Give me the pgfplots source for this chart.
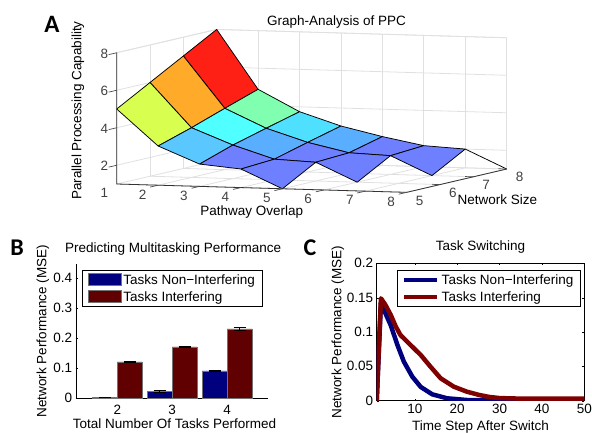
\documentclass[border=0pt]{standalone}
\usepackage{pgfplots}
\usepackage{fontspec}
\pgfplotsset{compat=1.18}
\setmainfont{Liberation Sans}
\newfontfamily\panelfont{Carlito}
\definecolor{navyb}{HTML}{00007F}
\definecolor{maroonb}{HTML}{600000}
\definecolor{maroonc}{HTML}{7F0000}
\definecolor{tickgray}{HTML}{404040}
\definecolor{cred}{HTML}{FF2015}
\definecolor{corange}{HTML}{FFAA28}
\definecolor{cyell}{HTML}{D8FF50}
\definecolor{cgreen}{HTML}{80FFB0}
\definecolor{ccyan}{HTML}{50FFFF}
\definecolor{cskyA}{HTML}{50E0FF}
\definecolor{cskyB}{HTML}{5AC8FF}
\definecolor{cskyC}{HTML}{5AAEFF}
\definecolor{cblue}{HTML}{6E7FFF}
\newcommand{\sizeA}{\fontsize{13.5}{15}\selectfont}
\pgfplotsset{mylegend/.style={
  legend style={anchor=north west,draw=black,line width=0.8pt,font=\sizeA,inner xsep=5pt,inner ysep=3pt,
    nodes={inner xsep=2pt,inner ysep=0pt,text height=11.5pt,text depth=1.5pt},row sep=4pt,cells={anchor=west}}}}
\begin{document}
\begin{tikzpicture}
\path[use as bounding box] (0pt,0pt) rectangle (592pt,432pt);
\node[font=\panelfont\bfseries\fontsize{25}{25}\selectfont,anchor=center] at (52pt,408pt) {A};
\node[font=\panelfont\bfseries\fontsize{24}{24}\selectfont,anchor=center] at (17pt,184pt) {B};
\node[font=\panelfont\bfseries\fontsize{24}{24}\selectfont,anchor=center] at (310pt,184pt) {C};
% Panel A
\begin{axis}[
  at={(116.7pt,248pt)},anchor=origin,
  x={(41.43pt,-1.19pt)},y={(33.33pt,7.77pt)},z={(0pt,18.75pt)},
  xmin=1,xmax=8,ymin=5,ymax=8,zmin=1,zmax=8,
  xtick={2,3,4,5,6,7,8},ytick={5,6,7,8},ztick={2,4,6,8},
  extra z ticks={1},extra z tick style={grid=none,tick label style={yshift=-8pt}},
  grid=major,major grid style={draw=black!12,line width=0.8pt},
  axis line style={draw=black!12,line width=0.8pt},
  major tick length=0pt,
  clip=false,
  tick label style={font=\sizeA,text=tickgray},
  xticklabel style={xshift=-9pt,yshift=-1pt},
  yticklabel style={xshift=5pt},
  zticklabel style={xshift=-5pt},
  title={Graph-Analysis of PPC},
  title style={at={(axis cs:3.89,8,8)},anchor=center,yshift=4.5pt,font=\sizeA},
  xlabel={Pathway Overlap},
  ylabel={Network Size},
  zlabel={Parallel Processing Capability},
  every axis x label/.style={at={(axis cs:4.26,5,-0.3)},anchor=center,font=\sizeA},
  every axis y label/.style={at={(axis cs:8,7.72,-0.5)},anchor=center,font=\sizeA},
  every axis z label/.style={at={(axis cs:0.066,5,4.85)},anchor=center,rotate=90,font=\sizeA},
  /pgf/number format/assume math mode=true,
]
\addplot3[fill=cred,draw=black,line width=0.75pt,line join=round] coordinates {(1,7,7) (2,7,4.27) (2,8,4.87) (1,8,8) (1,7,7)};
\addplot3[fill=cgreen,draw=black,line width=0.75pt,line join=round] coordinates {(2,7,4.27) (3,7,3.27) (3,8,3.74) (2,8,4.87) (2,7,4.27)};
\addplot3[fill=cskyA,draw=black,line width=0.75pt,line join=round] coordinates {(3,7,3.27) (4,7,2.58) (4,8,3.04) (3,8,3.74) (3,7,3.27)};
\addplot3[fill=cskyC,draw=black,line width=0.75pt,line join=round] coordinates {(4,7,2.58) (5,7,2.09) (5,8,2.54) (4,8,3.04) (4,7,2.58)};
\addplot3[fill=cblue,draw=black,line width=0.75pt,line join=round] coordinates {(5,7,2.09) (6,7,2) (6,8,2.12) (5,8,2.54) (5,7,2.09)};
\addplot3[fill=cblue,draw=black,line width=0.75pt,line join=round] coordinates {(6,7,2) (7,7,1) (7,8,2) (6,8,2.12) (6,7,2)};
\addplot3[draw=black,line width=0.75pt] coordinates {(7,8,2) (8,8,1)};
\addplot3[fill=corange,draw=black,line width=0.75pt,line join=round] coordinates {(1,6,6) (2,6,3.65) (2,7,4.27) (1,7,7) (1,6,6)};
\addplot3[fill=ccyan,draw=black,line width=0.75pt,line join=round] coordinates {(2,6,3.65) (3,6,2.79) (3,7,3.27) (2,7,4.27) (2,6,3.65)};
\addplot3[fill=cskyC,draw=black,line width=0.75pt,line join=round] coordinates {(3,6,2.79) (4,6,2.1) (4,7,2.58) (3,7,3.27) (3,6,2.79)};
\addplot3[fill=cblue,draw=black,line width=0.75pt,line join=round] coordinates {(4,6,2.1) (5,6,2) (5,7,2.09) (4,7,2.58) (4,6,2.1)};
\addplot3[fill=cblue,draw=black,line width=0.75pt,line join=round] coordinates {(5,6,2) (6,6,1) (6,7,2) (5,7,2.09) (5,6,2)};
\addplot3[fill=cyell,draw=black,line width=0.75pt,line join=round] coordinates {(1,5,5) (2,5,3.09) (2,6,3.65) (1,6,6) (1,5,5)};
\addplot3[fill=cskyB,draw=black,line width=0.75pt,line join=round] coordinates {(2,5,3.09) (3,5,2.19) (3,6,2.79) (2,6,3.65) (2,5,3.09)};
\addplot3[fill=cblue,draw=black,line width=0.75pt,line join=round] coordinates {(3,5,2.19) (4,5,1.99) (4,6,2.1) (3,6,2.79) (3,5,2.19)};
\addplot3[fill=cblue,draw=black,line width=0.75pt,line join=round] coordinates {(4,5,1.99) (5,5,1) (5,6,2) (4,6,2.1) (4,5,1.99)};
% front axis lines
\addplot3[draw=black!80,line width=0.8pt] coordinates {(1,5,8) (1,5,1) (8,5,1) (8,8,1)};
% tick marks
\pgfplotsinvokeforeach{2,3,4,5,6,7,8}{\addplot3[draw=black!70,line width=0.7pt] coordinates {(#1,5,1) (#1,4.76,1)};}
\pgfplotsinvokeforeach{2,4,6,8}{\addplot3[draw=black!70,line width=0.7pt] coordinates {(1,5,#1) (1,4.76,#1)};}
\pgfplotsinvokeforeach{6,7,8}{\addplot3[draw=black!70,line width=0.7pt] coordinates {(8,#1,1) (7.8,#1,1)};}
\end{axis}
% Panel B
\begin{axis}[
  at={(76.7pt,34pt)},anchor=south west,scale only axis,width=191.6pt,height=133.6pt,
  xmin=1.26,xmax=4.75,ymin=0,ymax=0.445,
  axis x line=bottom,axis y line=left,
  axis line style={-,line width=0.6pt},
  xtick={2,3,4},ytick={0,0.1,0.2,0.3,0.4},
  yticklabels={0,0.1,0.2,0.3,0.4},
  major tick length=2pt,tick style={black},
  tick label style={font=\sizeA},
  xticklabel style={yshift=-3pt},
  title={Predicting Multitasking Performance},
  title style={at={(axis description cs:0.503,1)},anchor=south,yshift=0pt,font=\sizeA},
  xlabel={Total Number Of Tasks Performed},
  xlabel style={font=\sizeA,at={(axis description cs:0.51,0)},anchor=north,yshift=-17pt},
  ylabel={Network Performance (MSE)},
  ylabel style={font=\sizeA,at={(axis description cs:0,0.5)},anchor=south,yshift=24pt},
  mylegend,
  legend style={at={(0.029,0.96)}},
  legend image code/.code={\draw[#1,line width=0.6pt] (0pt,-6pt) rectangle (33pt,6pt);},
  clip=false,
  /pgf/number format/assume math mode=true,
]
\addplot[fill=navyb,draw=black!55,line width=0.6pt,ybar,bar width=25pt,bar shift=0pt,
  error bars/.cd,y dir=both,y explicit,error bar style={black,line width=0.8pt},error mark options={rotate=90,mark size=6pt,black,line width=0.8pt}]
  coordinates {(1.772,0.002)+-(0,0.0008) (2.772,0.022)+-(0,0.002) (3.772,0.09)+-(0,0.003)};
\addlegendentry{Tasks Non{\textminus}Interfering}
\addplot[fill=maroonb,draw=black!55,line width=0.6pt,ybar,bar width=25pt,bar shift=0pt,
  error bars/.cd,y dir=both,y explicit,error bar style={black,line width=0.8pt},error mark options={rotate=90,mark size=6pt,black,line width=0.8pt}]
  coordinates {(2.228,0.12)+-(0,0.002) (3.228,0.17)+-(0,0.002) (4.228,0.23)+-(0,0.006)};
\addlegendentry{Tasks Interfering}
\end{axis}
% Panel C
\begin{axis}[
  at={(376.7pt,31.3pt)},anchor=south west,scale only axis,width=207.6pt,height=137.4pt,
  xmin=1,xmax=50,ymin=0,ymax=0.2,
  xtick={10,20,30,40,50},ytick={0,0.05,0.1,0.15,0.2},
  yticklabels={0,0.05,0.1,0.15,0.2},
  major tick length=2pt,tick align=inside,tick style={black},
  axis line style={line width=0.6pt},
  tick label style={font=\sizeA},
  title={Task Switching},
  title style={at={(axis description cs:0.5,1)},anchor=south,yshift=0pt,font=\sizeA},
  xlabel={Time Step After Switch},
  xlabel style={font=\sizeA,at={(axis description cs:0.5,0)},anchor=north,yshift=-16pt},
  ylabel={Network Performance (MSE)},
  ylabel style={font=\sizeA,at={(axis description cs:0,0.5)},anchor=south,yshift=29pt},
  mylegend,
  legend style={at={(0.097,0.951)}},
  legend image code/.code={\draw[#1,line width=4.5pt] (0pt,0pt) -- (33pt,0pt);},
  /pgf/number format/assume math mode=true,
]
\addplot[navyb,line width=4.5pt,line join=round] coordinates {(1,0) (2,0.143) (3,0.128) (4.3,0.11) (5.9,0.081) (7.4,0.057) (9.4,0.035) (11.4,0.02) (14.1,0.0093) (17.6,0.0035) (22.3,0.001) (30,0.0003) (40,0.0002) (50,0.0002)};
\addlegendentry{Tasks Non{\textminus}Interfering}
\addplot[maroonc,line width=4.5pt,line join=round] coordinates {(1,0) (2,0.149) (3,0.14) (4.3,0.125) (5.5,0.108) (6.6,0.0956) (9,0.081) (11.4,0.0665) (13.7,0.0495) (16.1,0.0326) (19.2,0.0204) (22.3,0.0131) (25.1,0.0085) (27.5,0.0055) (30,0.0038) (35,0.003) (40,0.003) (50,0.003)};
\addlegendentry{Tasks Interfering}
\end{axis}
\end{tikzpicture}
\end{document}
